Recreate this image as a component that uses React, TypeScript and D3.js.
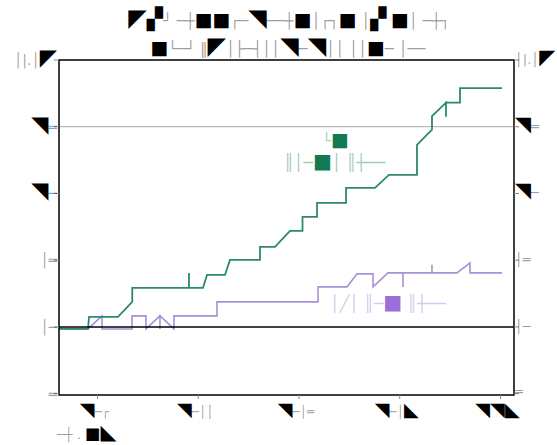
import React from "react";
import * as d3 from "d3";

// ---- data (x in period units, tick every 1; y in value units) ----
const xTickValues = [0, 1, 2, 3, 4];
const xTickLabels = ["◥─┌", "◥─││", "◥─│═", "◥─│◣", "◥◥◣"];
const yTickValues = [4, 3, 2, 1, 0, -1];
const yTickLabels = ["│|.│◤", "◥═", "◥─", "│═", "│─", "═"];

const greenX = [-0.382, -0.094, -0.084, 0.203, 0.345, 0.345, 0.908, 0.908, 0.908, 1.047, 1.087, 1.266, 1.315, 1.613, 1.613, 1.762, 1.911, 2.035, 2.035, 2.179, 2.179, 2.467, 2.467, 2.754, 2.893, 3.171, 3.171, 3.32, 3.32, 3.459, 3.459, 3.459, 3.598, 3.598, 4.015];
const greenY = [-0.03, -0.03, 0.15, 0.15, 0.375, 0.585, 0.585, 0.81, 0.585, 0.585, 0.78, 0.78, 1.005, 1.005, 1.2, 1.2, 1.44, 1.44, 1.65, 1.65, 1.86, 1.86, 2.085, 2.085, 2.28, 2.28, 2.73, 2.955, 3.16, 3.36, 3.15, 3.36, 3.36, 3.58, 3.58];

const purpleX = [-0.382, -0.094, 0.045, 0.045, 0.343, 0.343, 0.481, 0.481, 0.62, 0.62, 0.62, 0.759, 0.759, 1.186, 1.186, 2.189, 2.189, 2.476, 2.576, 2.735, 2.735, 2.883, 3.032, 3.032, 3.032, 3.32, 3.32, 3.32, 3.568, 3.697, 3.697, 4.015];
const purpleY = [-0.03, -0.03, 0.165, -0.03, -0.03, 0.165, 0.165, -0.03, 0.165, -0.03, 0.165, -0.03, 0.165, 0.165, 0.375, 0.375, 0.6, 0.6, 0.795, 0.795, 0.6, 0.81, 0.81, 0.6, 0.81, 0.81, 0.93, 0.81, 0.81, 0.96, 0.81, 0.81];

const refLevel = 3;
const titleLine1 = "◤▞┘ ─┼■■┌─◥──┼■│┌┐■ │▞ ■│ ─┼┐";
const titleLine2 = "■└─┘ ‖◤│├─┤││◥─◥││ ││■─ │──";
const greenLabel1 = "└■";
const greenLabel2 = "║│─■│ ║┼──";
const purpleLabel = "│╱│ ║─■  ║┼──";
const noteText = "─┼ .    ■◣";

const GREEN = "#2b8a6c";
const GREEN_DARK = "#127a52";
const PURPLE = "#a891d8";
const PURPLE_DARK = "#9a6fd6";
const FONT = "DejaVu Sans";
const SCALE: Record<string, number> = { "■": 1.25, "▞": 1.4, "◤": 1.6, "◥": 1.6, "◣": 1.6, "◢": 1.6 };

function Glyphs({ x, y, text, color = "#000", size = 15, anchor = "start" }: any) {
  return (
    <text x={x} y={y} fontFamily={FONT} fontSize={size} textAnchor={anchor} fill={color}>
      {Array.from(text as string).map((c, i) => {
        const s = SCALE[c];
        return (
          <tspan key={i} fillOpacity={s ? 1 : 0.4} fontSize={s ? size * s : size}>{c}</tspan>
        );
      })}
    </text>
  );
}

export default function App() {
  const W = 557, H = 445;
  const left = 59, right = 514, top = 60, bottom = 395;
  const x = d3.scaleLinear().domain([-0.382, 4.134]).range([left, right]);
  const y = d3.scaleLinear().domain([-1.02, 4.0]).range([bottom, top]);
  const line = d3.line<[number, number]>().x(d => x(d[0])).y(d => y(d[1]));
  const gPts = greenX.map((v, i) => [v, greenY[i]] as [number, number]);
  const pPts = purpleX.map((v, i) => [v, purpleY[i]] as [number, number]);

  return (
    <svg width={W} height={H} style={{ position: "absolute", left: 0, top: 0, background: "#fff" }}>
      {/* title */}
      <Glyphs x={289} y={26} text={titleLine1} size={15} anchor="middle" />
      <Glyphs x={288} y={54} text={titleLine2} size={15} anchor="middle" />

      {/* reference line */}
      <line x1={left} x2={right} y1={y(refLevel)} y2={y(refLevel)} stroke="#aaa" strokeWidth={1} />

      {/* series */}
      <path d={line(pPts) || ""} fill="none" stroke={PURPLE} strokeWidth={1.6} />
      <path d={line(gPts) || ""} fill="none" stroke={GREEN} strokeWidth={1.8} />

      {/* zero line */}
      <line x1={left} x2={right} y1={y(0)} y2={y(0)} stroke="#000" strokeWidth={1.5} />

      {/* frame */}
      <rect x={left} y={top} width={right - left} height={bottom - top} fill="none" stroke="#000" strokeWidth={1.5} />

      {/* y ticks */}
      {yTickValues.map((v, i) => (
        <g key={"y" + i}>
          <line x1={left - 5} x2={left} y1={y(v)} y2={y(v)} stroke="#888" />
          <line x1={right} x2={right + 5} y1={y(v)} y2={y(v)} stroke="#888" />
          <Glyphs x={left - 2} y={y(v) + 5} text={yTickLabels[i]} size={14} anchor="end" />
          <Glyphs x={right + 1} y={y(v) + (v === -1 ? 2 : 4)} text={yTickLabels[i]} size={13} anchor="start" />
        </g>
      ))}

      {/* x ticks */}
      {xTickValues.map((v, i) => (
        <g key={"x" + i}>
          <line x1={x(v)} x2={x(v)} y1={bottom} y2={bottom + 4} stroke="#888" />
          <Glyphs x={x(v) - 3} y={bottom + 21} text={xTickLabels[i]} size={12} anchor="middle" />
        </g>
      ))}

      {/* inline labels */}
      <Glyphs x={322} y={146} text={greenLabel1} size={15} color={GREEN_DARK} />
      <Glyphs x={284} y={168} text={greenLabel2} size={16} color={GREEN_DARK} />
      <Glyphs x={330} y={309} text={purpleLabel} size={16} color={PURPLE_DARK} />

      {/* note */}
      <Glyphs x={57} y={439} text={noteText} size={13} />
    </svg>
  );
}
